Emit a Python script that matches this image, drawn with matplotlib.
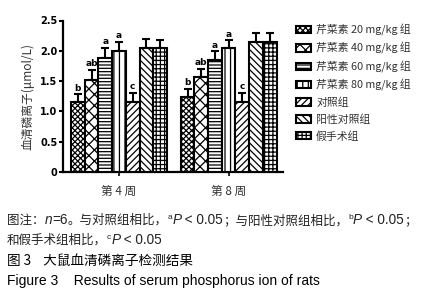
import matplotlib
matplotlib.use("Agg")
import matplotlib.pyplot as plt
import numpy as np

plt.rcParams['font.family'] = ['Noto Sans CJK SC', 'DejaVu Sans']
plt.rcParams['hatch.linewidth'] = 0.9

# data
groups = ['第 4 周', '第 8 周']
series = ['芹菜素 20 mg/kg 组', '芹菜素 40 mg/kg 组', '芹菜素 60 mg/kg 组',
          '芹菜素 80 mg/kg 组', '对照组', '阳性对照组', '假手术组']
week4 = [1.15, 1.51, 1.88, 2.00, 1.15, 2.05, 2.04]
week4_sd = [0.13, 0.17, 0.17, 0.14, 0.15, 0.15, 0.13]
week8 = [1.23, 1.56, 1.85, 2.04, 1.15, 2.15, 2.15]
week8_sd = [0.14, 0.14, 0.14, 0.13, 0.16, 0.15, 0.15]
marks = ['b', 'ab', 'a', 'a', 'c', '', '']
yticks = [0, 0.5, 1.0, 1.5, 2.0, 2.5]
ytick_labels = ['0', '0.5', '1.0', '1.5', '2.0', '2.5']

hatches = ['xxxxxx', 'xxx', '-----', '|||', '/////', '\\\\\\\\\\', '++++']

W, H = 426, 300
fig = plt.figure(figsize=(W / 100, H / 100), dpi=100)
ax = fig.add_axes([63 / W, 1 - 172 / H, 220 / W, 151.5 / H])

centers = np.array([0, 8])
means = np.array([week4, week8])
sds = np.array([week4_sd, week8_sd])

handles = []
for i in range(len(series)):
    xs = centers + i - 3
    b = ax.bar(xs, means[:, i], width=1.0, color='white', edgecolor='black',
               linewidth=1.5, hatch=hatches[i], label=series[i], zorder=3)
    handles.append(b)
    ax.errorbar(xs, means[:, i], yerr=[np.zeros(2), sds[:, i]], fmt='none',
                ecolor='black', elinewidth=1.5, capsize=3.2, capthick=1.5, zorder=2)
    if marks[i]:
        for x, m, s in zip(xs, means[:, i], sds[:, i]):
            ax.text(x, m + s + 0.03, marks[i], ha='center', va='bottom',
                    fontsize=6.5, fontweight='bold', family='DejaVu Sans')

ax.set_xlim(-4.09, 11.97)
ax.set_ylim(0, 2.5)
ax.set_yticks(yticks)
ax.set_yticklabels(ytick_labels, fontsize=7, fontweight='bold', family='DejaVu Sans')
ax.set_xticks(centers)
ax.set_xticklabels(groups, fontsize=8.5, color='#333333')
ax.tick_params(axis='y', length=3, width=1.5, pad=1)
ax.tick_params(axis='x', length=3, width=1.2, pad=6)
for s in ['top', 'right']:
    ax.spines[s].set_visible(False)
for s in ['left', 'bottom']:
    ax.spines[s].set_linewidth(1.6)
ax.set_ylabel('血清磷离子(μmol/L)', fontsize=8.5, color='#333333', labelpad=4)

fig.legend(handles=handles, loc='upper left', bbox_to_anchor=(296 / W, 1 - 24 / H),
           frameon=False, fontsize=7.8, handlelength=1.4, handleheight=0.65,
           handletextpad=0.45, labelspacing=0.58, borderpad=0, borderaxespad=0,
           labelcolor='#333333')

# caption with mixed fonts, drawn as runs of text
renderer = fig.canvas.get_renderer()


def put_runs(x, y, runs, size=9.0):
    for s, kw in runs:
        kw = dict(kw)
        dy = kw.pop('dy', 0)
        fs = kw.pop('fontsize', size)
        col = kw.pop('color', '#222222')
        t = fig.text(x, y + dy / H, s, fontsize=fs, va='baseline', color=col, **kw)
        x += t.get_window_extent(renderer=renderer).width / W


cjk = {}
it = {'family': 'Liberation Sans', 'style': 'italic', 'fontsize': 9.8}
en = {'family': 'Liberation Sans', 'fontsize': 9.8}
sup = {'family': 'Liberation Sans', 'fontsize': 6, 'dy': 5}

put_runs(7 / W, 1 - 224 / H, [
    ('图注：', cjk), ('n', it), ('=6', en), ('。与对照组相比，', cjk),
    ('a', sup), ('P', it), (' < 0.05', en), ('；与阳性对照组相比，', cjk),
    ('b', sup), ('P', it), (' < 0.05', en), ('；', cjk)])
put_runs(7 / W, 1 - 244 / H, [
    ('和假手术组相比，', cjk), ('c', sup), ('P', it), (' < 0.05', en)])
put_runs(7 / W, 1 - 265 / H, [('图 3    大鼠血清磷离子检测结果', {'color': 'black', 'fontsize': 9.8})])
put_runs(7 / W, 1 - 285 / H, [('Figure 3    Results of serum phosphorus ion of rats',
                               {'family': 'Liberation Sans', 'color': 'black', 'fontsize': 10})])

fig.savefig('out.png', dpi=100)
